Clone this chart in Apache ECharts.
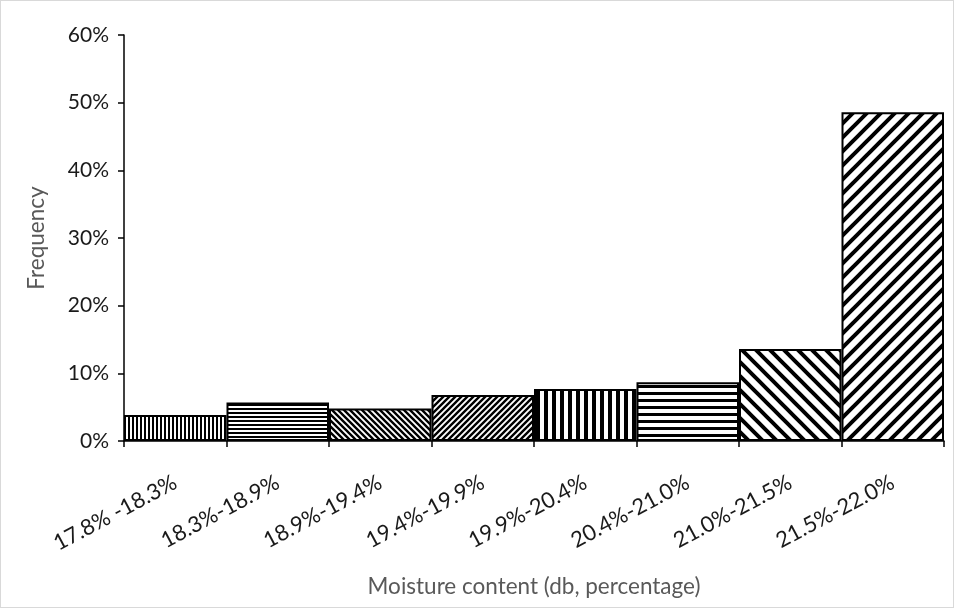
<!DOCTYPE html>
<html>
<head>
<meta charset="utf-8">
<script src="https://cdn.jsdelivr.net/npm/echarts@6/dist/echarts.min.js"></script>
<style>
html,body{margin:0;padding:0;background:#fff;}
#wrap{position:absolute;left:0;top:0;width:954px;height:608px;box-sizing:border-box;border:1px solid #d9d9d9;}
#chart{position:absolute;left:0;top:0;width:954px;height:608px;}
</style>
</head>
<body>
<div id="wrap"></div>
<div id="chart"></div>
<script>
const categories = ['17.8% -18.3%','18.3%-18.9%','18.9%-19.4%','19.4%-19.9%','19.9%-20.4%','20.4%-21.0%','21.0%-21.5%','21.5%-22.0%'];
const frequency = [3.85, 5.7, 4.8, 6.8, 7.7, 8.7, 13.6, 48.6];
const yTicks = [0, 10, 20, 30, 40, 50, 60];

function pattern(type, p, w) {
  const c = document.createElement('canvas');
  c.width = p; c.height = p;
  const g = c.getContext('2d');
  g.fillStyle = '#fff'; g.fillRect(0, 0, p, p);
  g.fillStyle = '#000'; g.strokeStyle = '#000';
  if (type === 'v') g.fillRect(0, 0, w, p);
  else if (type === 'h') g.fillRect(0, 0, p, w);
  else {
    g.lineWidth = w;
    g.beginPath();
    for (let k = -1; k <= 1; k++) {
      if (type === 'd') { g.moveTo(k * p - p, -p); g.lineTo(k * p + 2 * p, 2 * p); }
      else { g.moveTo(k * p - p, 2 * p); g.lineTo(k * p + 2 * p, -p); }
    }
    g.stroke();
  }
  return { image: c, repeat: 'repeat' };
}
const fills = [
  pattern('v', 4, 2),
  pattern('h', 4, 2),
  pattern('d', 6, 2.4),
  pattern('u', 6, 2.4),
  pattern('v', 8, 4),
  pattern('h', 7.5, 3),
  pattern('d', 14, 4),
  pattern('u', 14, 4)
];

const chart = echarts.init(document.getElementById('chart'), null, { renderer: 'canvas' });
const font = 'Lato, "DejaVu Sans", sans-serif';
chart.setOption({
  animation: false,
  grid: { left: 124, right: 10, top: 35, bottom: 167, containLabel: false },
  xAxis: {
    type: 'category',
    data: categories,
    name: 'Moisture content (db, percentage)',
    nameLocation: 'middle',
    nameGap: 134,
    nameTextStyle: { color: '#595959', fontSize: 22.5, fontFamily: font },
    axisLine: { lineStyle: { color: '#000', width: 1.5 } },
    axisTick: { show: true, length: 6, lineStyle: { color: '#000', width: 1.5 } },
    axisLabel: { rotate: 28, color: '#1a1a1a', fontSize: 22, fontFamily: font, margin: 40, interval: 0 }
  },
  yAxis: {
    type: 'value',
    min: yTicks[0], max: yTicks[yTicks.length - 1], interval: 10,
    name: 'Frequency',
    nameLocation: 'middle',
    nameGap: 76,
    nameRotate: 90,
    nameTextStyle: { color: '#595959', fontSize: 22.5, fontFamily: font },
    splitLine: { show: false },
    axisLine: { show: true, lineStyle: { color: '#000', width: 1.5 } },
    axisTick: { show: true, length: 6, lineStyle: { color: '#000', width: 1.5 } },
    axisLabel: { formatter: '{value}%', color: '#1a1a1a', fontSize: 21, fontFamily: font, margin: 15 }
  },
  series: [{
    type: 'bar',
    barCategoryGap: '0%',
    data: frequency.map((v, i) => ({ value: v, itemStyle: { color: fills[i] } })),
    itemStyle: { borderColor: '#000', borderWidth: 2 }
  }]
});
</script>
</body>
</html>
